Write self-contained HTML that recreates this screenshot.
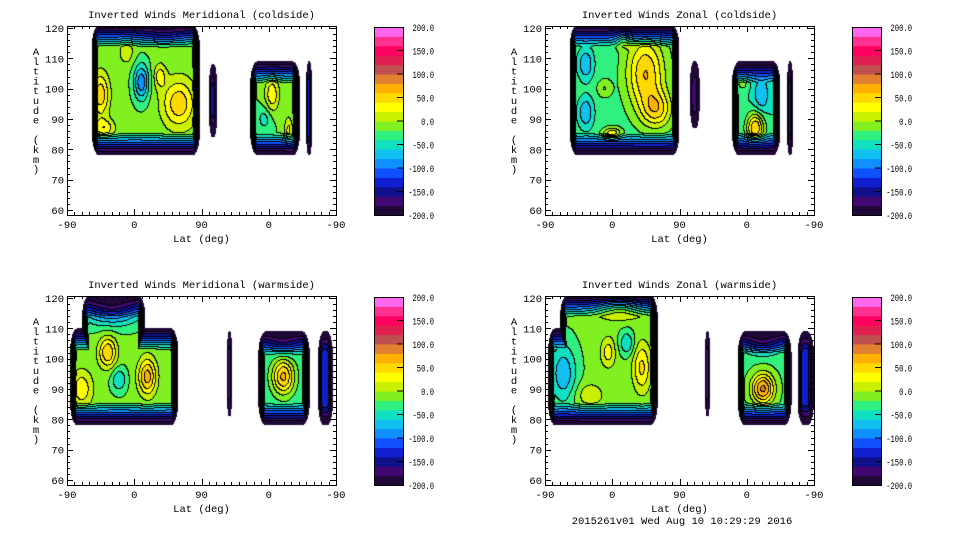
<!DOCTYPE html>
<html><head><meta charset="utf-8">
<style>
html,body{margin:0;padding:0;background:#fff;}
#root{position:relative;width:960px;height:540px;overflow:hidden;background:#fff;font-family:"Liberation Mono",monospace;}
canvas{position:absolute;}
svg{position:absolute;left:0;top:0;}
svg text{font-family:"Liberation Mono",monospace;font-size:10.5px;fill:#000;}
svg text.cbl{font-size:10.5px;}
</style></head>
<body>
<div id="root">
<svg id="ov" width="960" height="540"></svg>
</div>
<script>
// ---- data ----
// blocks: [trackStart, trackEnd, altBottom, altTop, baseValue]; track 0..360 = -90,0,90,0,-90
const levels = [-200,-180,-160,-140,-120,-100,-80,-60,-40,-20,0,20,40,60,80,100,120,140,160,180,200];
const cbLabels = ["200.0","150.0","100.0","50.0","0.0","-50.0","-100.0","-150.0","-200.0"];
const xTickLabels = ["-90","0","90","0","-90"];
const yTickLabels = [60,70,80,90,100,110,120];
const titles = ["Inverted Winds Meridional (coldside)","Inverted Winds Zonal (coldside)","Inverted Winds Meridional (warmside)","Inverted Winds Zonal (warmside)"];

const p1Blocks = [[33,178,78,121,-15],[190,201,84,108,-165],[245,312,78,109,-20],[320,328,78,109,-125]];
const p1Spots = [[45,98,12,7,70],[150,95,22,8,70],[100,102,10,6,-80],[125,104,8,4,45],[50,87,14,3,50],[130,118,25,3,-50],[80,112,10,4,30],[195,96,4,8,25],[275,98,10,6,55],[297,86,6,5,45],[265,90,10,4,-30]];

const p2Blocks = [[33,180,78,121,-30],[194,207,87,109,-165],[250,315,78,109,-40],[324,332,78,109,-135]];
const p2Spots = [[135,105,25,12,90],[150,93,20,6,70],[55,92,10,5,-50],[55,108,10,5,-50],[90,85,12,2,70],[105,117,10,3,70],[80,100,10,3,30],[282,87,12,5,100],[290,98,10,6,-40],[265,102,8,3,30]];

const p3Blocks = [[4,149,78,110,-15],[20,105,90,121,-15],[214,221,81,109,-165],[256,325,78,109,-35],[336,356,78,109,-115]];
const p3Spots = [[55,102,12,5,75],[108,94,12,6,85],[20,90,15,6,50],[70,93,10,4,-45],[60,118,40,6,-130],[290,94,15,6,100],[290,106,25,4,-80],[346,95,4,10,-20]];

const p4Blocks = [[4,151,78,110,-15],[20,151,90,121,-15],[214,221,81,109,-165],[258,330,78,109,-25],[338,360,78,109,-115]];
const p4Spots = [[25,95,18,10,-60],[100,118,30,4,110],[130,97,12,8,60],[110,105,10,4,-45],[85,102,10,5,45],[60,88,20,4,30],[292,90,15,5,110],[292,106,25,4,-100],[349,92,4,12,-20]];

const colors = ["#200838","#400870","#10108a","#1020d0","#1050ff","#1090ff","#10c0f0","#10e0c0","#30f080","#80f020","#c8f000","#ffff00","#ffd800","#ffb000","#e08030","#c05050","#e02050","#ff0060","#ff3090","#ff66ee"];

const panels = [
  {dx:0, dy:0, blocks:p1Blocks, spots:p1Spots},
  {dx:478, dy:0, blocks:p2Blocks, spots:p2Spots},
  {dx:0, dy:270, blocks:p3Blocks, spots:p3Spots},
  {dx:478, dy:270, blocks:p4Blocks, spots:p4Spots}
];

// ---- geometry ----
const PL=67, PW=269, PT=26, PH=189;
const tScale = PW/360;
const aScale = 3.033;
const ALT_TOP = 120 + 2/aScale;
function xOf(t){return PL + t*tScale;}
function yOf(a){return PT + (ALT_TOP - a)*aScale;}

function field(p, t, a){
  let best = null;
  for (const b of p.blocks){
    const ET = Math.min(10, (b[1]-b[0])/2.5), EA = 8;
    const dt = Math.min(t-b[0], b[1]-t)/ET, da = Math.min(a-b[2], b[3]-a)/EA;
    if (dt<0||da<0) continue;
    const ut=Math.max(0,1-dt), ua=Math.max(0,1-da);
    const r=Math.sqrt(ut*ut+ua*ua);
    if (r>=1) continue;
    let v=b[4];
    for (const s of p.spots){
      if (b[4] <= -100 && !(s[0]>=b[0]-2 && s[0]<=b[1]+2)) continue;
      const q=((t-s[0])/s[2])**2+((a-s[1])/s[3])**2;
      if (q<9) v += s[4]*Math.exp(-q);
    }
    const f = 1-r;
    const val = -215 + (v+215)*Math.min(1, f*1.1);
    if (best===null || val>best) best=val;
  }
  return best;
}
function band(v){ if(v===null) return -1; let i=Math.floor((v+200)/20); return Math.max(0,Math.min(19,i)); }
function hex(c){return [parseInt(c.substr(1,2),16),parseInt(c.substr(3,2),16),parseInt(c.substr(5,2),16)];}
const rgb = colors.map(hex);

const root=document.getElementById('root');
const ov=document.getElementById('ov');
const NS='http://www.w3.org/2000/svg';
function mk(tag, attrs, parent){const e=document.createElementNS(NS,tag);for(const k in attrs)e.setAttribute(k,attrs[k]);(parent||ov).appendChild(e);return e;}

panels.forEach((p,pi)=>{
  const cv=document.createElement('canvas');
  cv.width=PW; cv.height=PH;
  cv.style.left=(PL+p.dx)+'px'; cv.style.top=(PT+p.dy)+'px';
  
  
  root.insertBefore(cv, ov);
  const ctx=cv.getContext('2d');
  const img=ctx.createImageData(PW,PH);
  const B=new Int8Array(PW*PH);
  for(let y=0;y<PH;y++){
    const a = ALT_TOP - (y+0.5)/aScale;
    for(let x=0;x<PW;x++){
      const t=(x+0.5)/tScale;
      B[y*PW+x]=band(field(p,t,a));
    }
  }
  for(let y=0;y<PH;y++)for(let x=0;x<PW;x++){
    const i=y*PW+x, b=B[i], o=i*4;
    let c=[255,255,255];
    if(b>=0){
      c=rgb[b];
      const r = x<PW-1?B[i+1]:b, d = y<PH-1?B[i+PW]:b;
      if((r!==b && r>=0) || (d!==b && d>=0)) c=[0,0,0];
    }
    img.data[o]=c[0];img.data[o+1]=c[1];img.data[o+2]=c[2];img.data[o+3]=255;
  }
  ctx.putImageData(img,0,0);

  const g=mk('g',{transform:`translate(${p.dx},${p.dy})`});
  
  
  const fr=mk('rect',{x:PL+0.5,y:PT+0.5,width:PW,height:PH,fill:'none',stroke:'#000','stroke-width':1},g);
  
  
  for(let t=0;t<=360;t+=10){
    const x=Math.round(xOf(t))+0.5, L=(t%90===0)?6:3;
    mk('line',{x1:x,y1:PT+PH,x2:x,y2:PT+PH-L,stroke:'#000'},g);
    mk('line',{x1:x,y1:PT,x2:x,y2:PT+L,stroke:'#000'},g);
  }
  xTickLabels.forEach((lb,i)=>{
    const tx=mk('text',{x:xOf(i*90),y:PT+PH+13,'text-anchor':'middle'},g);
    tx.textContent=lb;
    
    
  });
  for(let a=60;a<=120;a+=2){
    const y=Math.round(yOf(a))+0.5, L=(a%10===0)?6:3;
    mk('line',{x1:PL,y1:y,x2:PL+L,y2:y,stroke:'#000'},g);
    mk('line',{x1:PL+PW,y1:y,x2:PL+PW-L,y2:y,stroke:'#000'},g);
  }
  yTickLabels.forEach(v=>{
    const tx=mk('text',{x:PL-3,y:yOf(v)+4,'text-anchor':'end'},g);
    tx.textContent=v;
    
    
  });
  const tt=mk('text',{x:PL+PW/2,y:18,'text-anchor':'middle'},g);
  tt.textContent=titles[pi];
  
  
  const xl=mk('text',{x:PL+PW/2,y:242,'text-anchor':'middle'},g);
  xl.textContent='Lat (deg)';
  
  
  const yl=mk('g',{},g);
  
  
  'Altitude (km)'.split('').forEach((ch,i)=>{
    const c=mk('text',{x:36,y:55+i*9.8,'text-anchor':'middle'},yl);
    c.textContent=ch;
  });
  const CX=374, CW=29, CT=27, CH=188;
  const cb=mk('g',{},g);
  
  
  for(let i=0;i<20;i++){
    const y0=CT+CH*(1-(levels[i+1]+200)/400), y1=CT+CH*(1-(levels[i]+200)/400);
    mk('rect',{x:CX,y:y0,width:CW,height:y1-y0+0.5,fill:colors[i]},cb);
  }
  mk('rect',{x:CX+0.5,y:CT+0.5,width:CW,height:CH,fill:'none',stroke:'#000'},cb);
  cbLabels.forEach((lb,i)=>{
    const y=CT+CH*i/8;
    if(i>0&&i<8) mk('line',{x1:CX+CW-6,y1:y,x2:CX+CW,y2:y,stroke:'#000'},cb);
    const w=lb.length*4.3;
    const tx=mk('text',{x:434-w,y:y+4,'class':'cbl',textLength:w,lengthAdjust:'spacingAndGlyphs'},cb);
    tx.textContent=lb;
  });
});
const ft=mk('text',{x:682,y:524,'text-anchor':'middle'});
ft.textContent='2015261v01 Wed Aug 10 10:29:29 2016';


</script>
</body></html>
